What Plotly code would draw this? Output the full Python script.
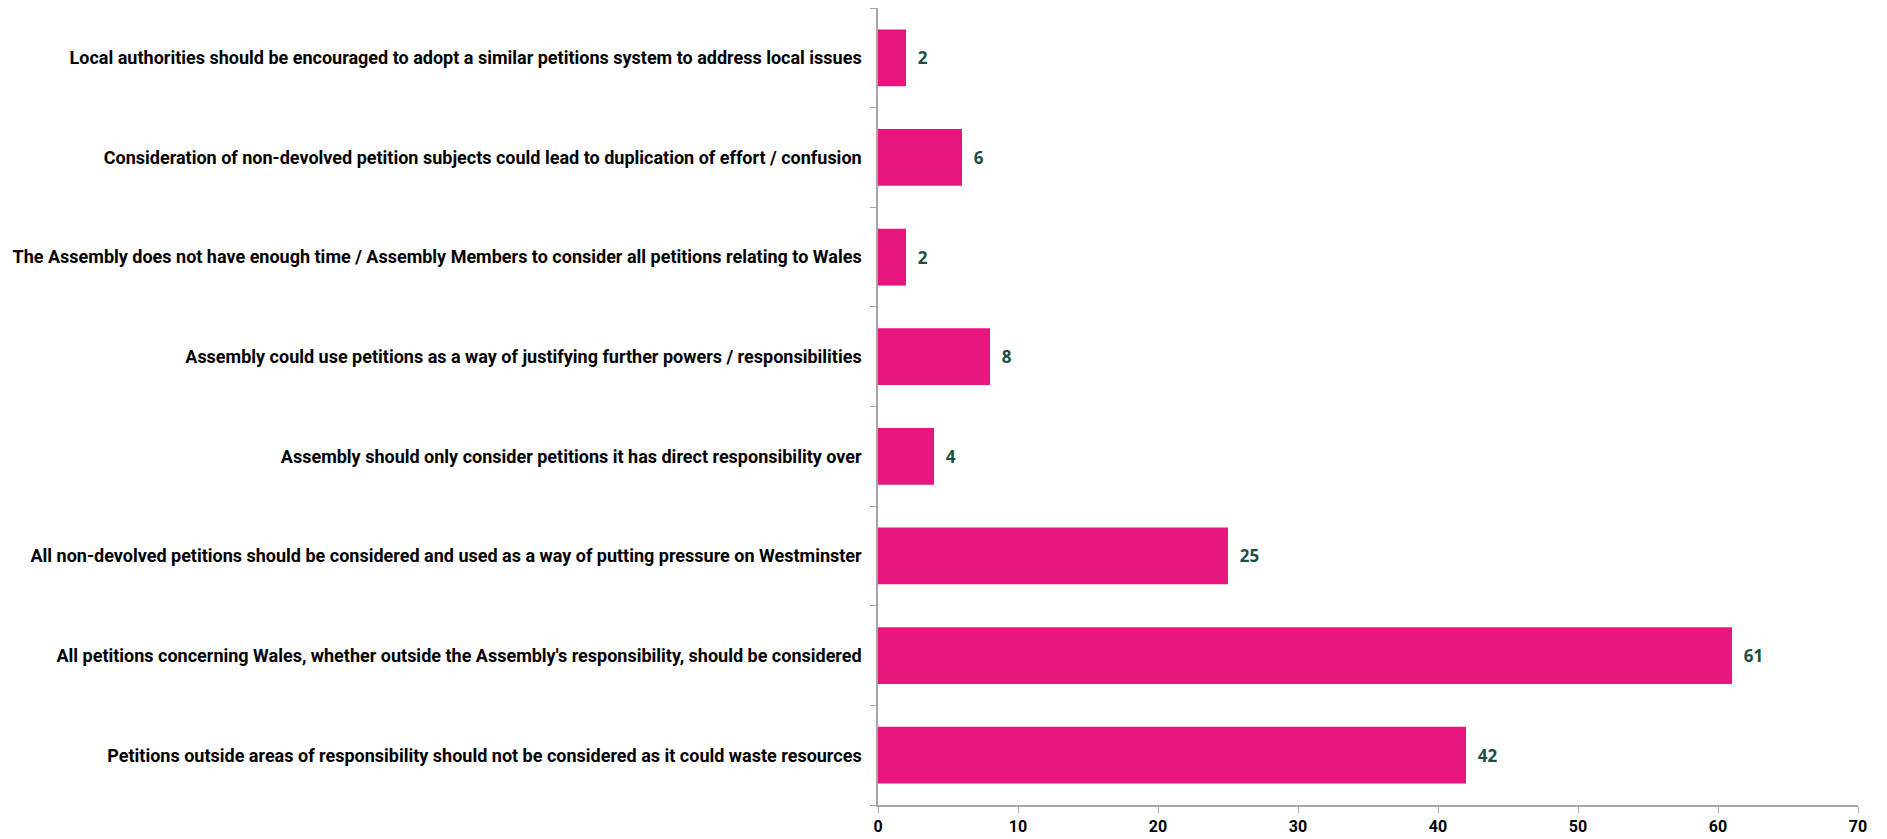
import plotly.graph_objects as go

categories = [
    "Petitions outside areas of responsibility should not be considered as it could waste resources",
    "All petitions concerning Wales, whether outside the Assembly's responsibility, should be considered",
    "All non-devolved petitions should be considered and used as a way of putting pressure on Westminster",
    "Assembly should only consider petitions it has direct responsibility over",
    "Assembly could use petitions as a way of justifying further powers / responsibilities",
    "The Assembly does not have enough time / Assembly Members to consider all petitions relating to Wales",
    "Consideration of non-devolved petition subjects could lead to duplication of effort / confusion",
    "Local authorities should be encouraged to adopt a similar petitions system to address local issues",
]
values = [42, 61, 25, 4, 8, 2, 6, 2]
x_ticks = [0, 10, 20, 30, 40, 50, 60, 70]

label_font = "Roboto, Inter, sans-serif"

fig = go.Figure(
    go.Bar(
        x=values,
        y=categories,
        orientation="h",
        marker=dict(color="#E8157F", line=dict(width=0)),
        texttemplate="\u00a0\u00a0%{x}",
        textposition="outside",
        textfont=dict(family="Open Sans", size=17, color="#1F4D40", weight="bold"),
        cliponaxis=False,
        width=0.57,
    )
)

fig.update_layout(
    width=1879,
    height=831,
    margin=dict(l=870, r=29, t=0, b=34, autoexpand=False),
    plot_bgcolor="white",
    paper_bgcolor="white",
    showlegend=False,
)

fig.update_xaxes(
    range=[0, 70],
    tickvals=x_ticks,
    showgrid=False,
    zeroline=False,
    showline=True,
    linecolor="#A6A6A6",
    linewidth=1.5,
    ticks="outside",
    ticklen=6,
    tickcolor="#A6A6A6",
    tickfont=dict(family=label_font, size=16, color="black", weight="bold"),
)

fig.update_yaxes(
    categoryorder="array",
    categoryarray=categories,
    showgrid=False,
    zeroline=False,
    showline=True,
    linecolor="#A6A6A6",
    linewidth=1.5,
    ticks="outside",
    tickson="boundaries",
    ticklen=6,
    tickcolor="#A6A6A6",
    ticklabelstandoff=11,
    tickfont=dict(family=label_font, size=18, color="black", weight="bold"),
)

fig.write_html("out.html")
